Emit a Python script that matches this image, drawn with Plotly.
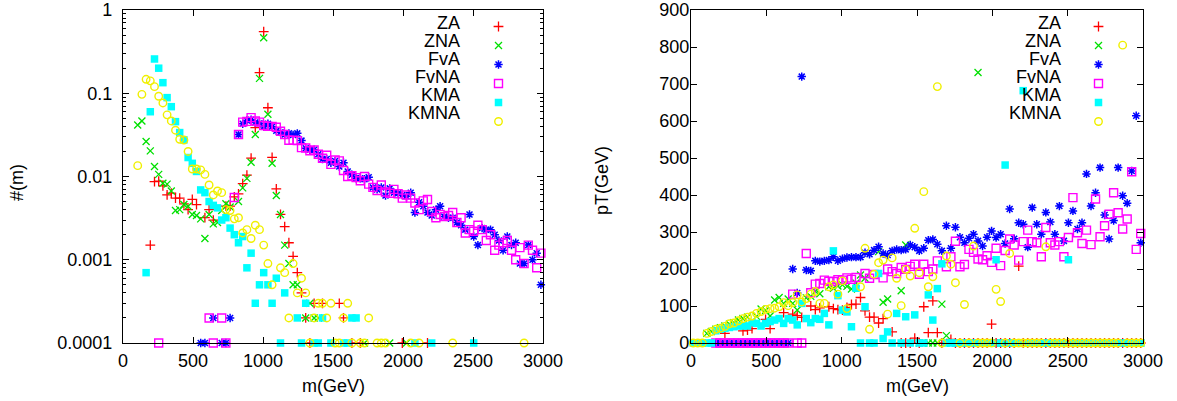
import plotly.graph_objects as go

# ---------------- LEFT PANEL: #(m) vs m (log y) ----------------
za_l_m = [195,225,255,285,315,345,375,405,435,465,495,525,585,615,645,735,765,795,825,855,
          885,915,945,975,1005,1035,1065,1095,1125,1155,1185,1215,1245,1275,1305,1335,1365,1425,1545,1575,
          1635,1695,1995,2175]
za_l_v = [0.0015,0.0087,0.0088,0.0077,0.006,0.0063,0.0055,0.0055,0.0047,0.0040,
          0.0053,0.0046,0.0032,0.0040,0.0030,0.0044,0.0044,0.0057,0.0062,0.0082,
          0.0104,0.0166,0.0386,0.177,0.55,0.067,0.017,0.0071,0.0035,0.0025,
          0.0016,0.0011,0.0007,0.0004,0.0002,0.0001,0.0003,0.0003,0.0003,0.0002,
          0.0001,0.0001,0.0001,0.0001]

zna_l_m = [105,135,165,195,225,255,285,315,345,375,405,435,465,495,525,555,585,615,645,675,
           705,735,765,825,855,885,915,945,975,1005,1035,1065,1095,1125,1155,1185,1215,1245,1305,1335,
           1365,1395,1725,1905,2025]
zna_l_v = [0.0416,0.0465,0.0263,0.0203,0.0132,0.0106,0.0083,0.0081,0.0067,0.0039,
           0.0040,0.0046,0.0044,0.0035,0.0034,0.0031,0.0018,0.0035,0.0027,0.0028,
           0.0039,0.0047,0.0043,0.0050,0.0073,0.0095,0.0148,0.032,0.151,0.465,
           0.056,0.0144,0.0059,0.0035,0.0015,0.0009,0.0005,0.0005,0.0002,0.0003,
           0.0002,0.0002,0.0001,0.0001,0.0001]

fva_l_m = [555,585,645,705,735,765,
           825,855,885,915,945,975,1005,1035,1065,1095,1125,1155,1185,1215,1245,1275,1305,1335,1365,1395,
           1425,1455,1485,1515,1545,1575,1605,1635,1665,1695,1725,1755,1785,1815,1845,1875,1905,1935,1965,1995,
           2025,2055,2085,2115,2145,2175,2205,2235,2265,2295,2325,2355,2385,2415,2445,2475,2505,2535,2565,2595,
           2625,2655,2685,2715,2745,2775,2805,2835,2865,2895,2925,2955,2985]
fva_l_v = [0.0001,0.0001,0.0002,0.0001,0.0001,0.0002,
           0.032,0.043,0.047,0.048,0.0445,0.0435,0.0397,0.043,0.0397,0.0354,
           0.034,0.032,0.033,0.0316,0.033,0.027,0.0218,0.021,0.021,0.0185,
           0.0162,0.0162,0.0146,0.0154,0.0132,0.0146,0.0115,0.0105,0.0095,0.0095,
           0.0093,0.0098,0.0074,0.0070,0.0074,0.0059,0.0072,0.0064,0.0063,0.0060,
           0.0058,0.0064,0.0037,0.0049,0.0044,0.0037,0.0034,0.0040,0.0044,0.0033,
           0.0032,0.0032,0.0028,0.0026,0.0023,0.0035,0.0019,0.0015,0.0024,0.0023,
           0.0023,0.0020,0.0017,0.0013,0.0019,0.0015,0.0016,0.0009,0.0009,0.0015,
           0.0010,0.0012,0.0005]

fvna_l_m = [255,615,645,705,735,795,
            825,855,885,915,945,975,1005,1035,1065,1095,1125,1155,1185,1215,1245,1275,1305,1335,1365,1395,
            1425,1455,1485,1515,1545,1575,1605,1635,1665,1695,1725,1755,1785,1815,1845,1875,1905,1935,1965,1995,
            2025,2055,2085,2115,2145,2175,2205,2235,2265,2295,2325,2355,2385,2415,2445,2475,2505,2535,2565,2595,
            2625,2655,2685,2715,2745,2775,2805,2835,2865,2895,2925,2955,2985]
fvna_l_v = [0.0001,0.0002,0.0001,0.0002,0.0001,0.0056,
            0.032,0.045,0.046,0.051,0.0465,0.045,0.041,0.040,0.040,0.039,
            0.035,0.032,0.0273,0.0273,0.027,0.0222,0.022,0.0204,0.0208,0.0185,
            0.0166,0.018,0.014,0.0158,0.0154,0.0118,0.010,0.0102,0.0097,0.0089,
            0.0100,0.0081,0.0074,0.0068,0.0079,0.0065,0.0063,0.0070,0.0062,0.0055,
            0.0060,0.0055,0.0048,0.0040,0.0051,0.0053,0.0038,0.0032,0.0035,0.0033,
            0.0034,0.0037,0.0028,0.0032,0.0021,0.0023,0.0022,0.0026,0.0023,0.0017,
            0.0020,0.0013,0.0015,0.0016,0.0017,0.0013,0.0010,0.0014,0.0009,0.0015,
            0.0013,0.0008,0.0012]

kma_l_m = [165,195,225,255,285,315,345,375,405,435,465,495,525,555,585,615,645,675,705,735,
           765,795,825,855,885,915,945,975,1005,1035,1065,1095,1125,1155,1245,1275,1305,1365,1395,1425,
           1485,1575,1605,1635,1665,2085,2205,2505]
kma_l_v = [0.0007,0.060,0.258,0.20,0.134,0.0886,0.069,0.0456,0.0337,0.0275,
           0.0169,0.0144,0.0115,0.0069,0.0064,0.0050,0.0045,0.0042,0.0030,0.0032,
           0.0024,0.0020,0.0016,0.0019,0.0008,0.0012,0.0003,0.0005,0.0007,0.0005,
           0.0003,0.0006,0.0001,0.0004,0.0002,0.0001,0.0003,0.0001,0.0001,0.0002,
           0.0001,0.0001,0.0001,0.0002,0.0002,0.0001,0.0001,0.0001]

kmna_l_m = [105,135,165,195,225,255,285,315,345,375,405,435,465,495,525,555,585,615,645,675,
            705,735,765,795,825,855,885,915,945,975,1005,1035,1065,1125,1155,1185,1215,1245,1275,1305,
            1335,1365,1395,1425,1455,1485,1515,1545,1575,1605,1635,1695,1725,1755,1815,1845,1875,2055,2115,2355,
            2865]
kmna_l_v = [0.0135,0.097,0.147,0.141,0.12,0.092,0.0765,0.055,0.0465,0.036,
            0.028,0.0274,0.020,0.0123,0.0123,0.012,0.0106,0.0079,0.0060,0.0067,
            0.0064,0.0040,0.0039,0.0031,0.0032,0.0021,0.0023,0.0018,0.0026,0.0023,
            0.0015,0.0009,0.0005,0.0008,0.0007,0.0002,0.0009,0.0004,0.0006,0.0004,
            0.0001,0.0002,0.0003,0.0003,0.0002,0.0003,0.0001,0.0001,0.0002,0.0003,
            0.0001,0.0001,0.0001,0.0002,0.0001,0.0001,0.0001,0.0001,0.0001,0.0001,
            0.0001]

# ---------------- RIGHT PANEL: pT vs m ----------------
za_r_m = [225,345,375,405,495,525,615,675,705,735,795,825,855,915,945,975,1005,1035,1065,1095,
          1125,1155,1185,1215,1245,1275,1335,1485,1545,1575,1605,1635,1725,1995,2175]
za_r_v = [26,33,35,39,64,39,82,78,74,69,100,90,95,98,93,90,89,96,104,105,
          123,87,70,70,54,66,30,13,98,28,114,28,10,51,208]
za_r_zero_m = [1395,1425,1455,1515,1665,1755,1785,1815,1845,1875,1905,1935,1965,2025,2055,2085,2115,2145,
               2205,2235,2265,2295,2325,2355,2385,2415,2445,2475,2505,2535,2565,2595,2625,2655,2685,2715,
               2745,2775,2805,2835,2865,2895,2925,2955,2985]

zna_r_m = [105,135,165,195,225,255,285,315,345,375,435,465,495,525,555,585,615,645,675,705,
           765,795,825,855,915,945,975,1005,1035,1065,1095,1125,1155,1245,1275,1305,1395,1425,1665,1695,
           1905]
zna_r_v = [26,31,37,41,46,51,55,62,66,70,72,92,88,73,116,123,107,119,107,89,
           122,126,140,133,152,148,154,157,153,146,162,184,175,247,110,119,141,265,105,20,
           731]
zna_r_zero_m = [1515,1545,1575,1605,1635,1725,1755,1785,1815,1845,1875,1935,1965,1995,2025,2055,2085,2115,
                2145,2175,2205,2235,2265,2295,2325,2355,2385,2415,2445,2475,2505,2535,2565,2595,2625,2655,
                2685,2715,2745,2775,2805,2835,2865,2895,2925,2955,2985]

fva_r_m = [675,705,735,
           765,795,825,855,885,915,945,975,1005,1035,1065,1095,1125,1155,1185,1215,1245,1275,1305,1335,1365,1395,
           1425,1455,1485,1515,1545,1575,1605,1635,1665,1695,1725,1755,1785,1815,1845,1875,1905,1935,1965,1995,
           2025,2055,2085,2115,2145,2175,2205,2235,2265,2295,2325,2355,2385,2415,2445,2475,2505,2535,2565,2595,
           2625,2655,2685,2715,2745,2775,2805,2835,2865,2895,2925,2955,2985]
fva_r_v = [200,135,720,
           197,195,222,220,222,224,233,222,228,231,
           232,232,232,244,240,251,260,242,238,249,
           253,251,253,265,259,249,256,278,280,267,
           249,317,256,313,286,271,283,294,276,262,
           286,303,285,294,269,362,282,325,321,259,
           366,321,294,353,327,294,370,276,325,357,
           308,325,457,370,406,474,346,281,331,474,
           398,378,465,614,271]
fva_r_zero_m = [165,195,225,255,285,315,345,375,405,435,465,495,525,555,585,615,645]

fvna_r_m = [675,765,795,825,855,885,915,945,975,1005,1035,1065,1095,1155,1185,1215,1275,1305,1335,1365,
            1395,1425,1455,1485,1515,1545,1575,1605,1635,1695,1725,1755,1785,1815,1845,1875,1905,1935,1965,1995,
            2025,2055,2085,2115,2145,2175,2205,2235,2265,2295,2325,2355,2385,2415,2445,2475,2505,2535,2565,2595,
            2625,2655,2685,2715,2745,2775,2805,2835,2865,2895,2925,2955,2985]
fvna_r_v = [132,242,136,159,161,170,167,166,171,170,176,172,177,188,175,185,176,200,193,188,
            204,199,207,213,186,213,193,200,222,206,233,275,206,212,253,245,227,225,236,218,
            256,209,250,281,265,224,274,305,274,271,233,312,271,265,274,233,285,393,298,269,
            305,266,389,287,317,348,406,352,308,335,463,253,296]
fvna_r_zero_m = [165,195,225,255,285,315,345,375,405,435,465,495,525,555,585,615,645,705,735]

kma_r_m = [165,195,225,255,285,315,345,375,405,435,465,495,525,555,585,615,645,675,705,735,
           765,795,825,855,885,915,945,975,1005,1035,1065,1095,1155,1245,1275,1305,1365,1425,1485,1575,
           1605,1635,1665,2025,2085,2205,2505]
kma_r_v = [33,37,40,42,44,46,46,46,55,53,46,53,58,62,66,53,66,62,49,107,
           66,55,66,64,80,49,249,128,89,84,44,148,98,188,12,30,80,71,76,130,
           62,147,214,225,481,682,225]
kma_r_zero_m = [15,45,75,105,135,1125,1185,1215,1335,1395,1455,1515,1545,1695,1725,1755,1785,1815,1845,
                1875,1905,1935,1965,1995,2055,2115,2145,2175,2235,2265,2295,2325,2355,2385,2415,2445,2475,
                2535,2565,2595,2625,2655,2685,2715,2745,2775,2805,2835,2865,2895,2925,2955,2985]

kmna_r_m = [105,135,165,195,225,255,285,315,345,375,405,435,465,495,525,555,585,615,645,675,
            705,735,765,795,825,855,885,915,945,975,1005,1035,1125,1155,1185,1215,1245,1275,1305,1335,
            1365,1395,1425,1455,1485,1515,1545,1575,1605,1635,1695,1725,1755,1815,1875,2025,2055,2115,2355,2865]
kmna_r_v = [26,31,37,40,45,52,54,60,66,70,73,80,85,91,93,94,98,109,101,109,
            130,111,120,132,139,107,107,152,157,132,168,93,152,256,37,186,217,224,78,230,
            175,101,199,181,310,190,409,152,179,693,235,213,163,104,262,145,112,242,260,805]
kmna_r_zero_m = [15,45,75,1665,1785,1845,1905,1935,1965,1995,2085,2145,2175,2205,2235,2265,2295,2325,2385,
                 2415,2445,2475,2505,2535,2565,2595,2625,2655,2685,2715,2745,2775,2805,2835,2895,2925,2955,2985]

series_names = ["ZA", "ZNA", "FvA", "FvNA", "KMA", "KMNA"]
x_ticks = [0, 500, 1000, 1500, 2000, 2500, 3000]
logy_tickvals = [0.0001, 0.001, 0.01, 0.1, 1]
logy_ticktext = ["0.0001", "0.001", "0.01", "0.1", "1"]

# ---------------- styles ----------------
styles = {
    "ZA":   dict(symbol="cross-thin-open", size=7, color="#ff0000", line=dict(width=1.3, color="#ff0000")),
    "ZNA":  dict(symbol="x-thin-open", size=7, color="#00e000", line=dict(width=1.3, color="#00e000")),
    "FvA":  dict(symbol="asterisk-open", size=7, color="#0000ff", line=dict(width=1.5, color="#0000ff")),
    "FvNA": dict(symbol="square-open", size=8, color="#ff00ff", line=dict(width=1.4, color="#ff00ff")),
    "KMA":  dict(symbol="square", size=7.5, color="#00ffff", line=dict(width=0)),
    "KMNA": dict(symbol="circle-open", size=7.5, color="#f0f000", line=dict(width=1.4, color="#f0f000")),
}

left_data = {
    "ZA": (za_l_m, za_l_v), "ZNA": (zna_l_m, zna_l_v), "FvA": (fva_l_m, fva_l_v),
    "FvNA": (fvna_l_m, fvna_l_v), "KMA": (kma_l_m, kma_l_v), "KMNA": (kmna_l_m, kmna_l_v),
}
right_data = {
    "ZA": (za_r_m, za_r_v, za_r_zero_m), "ZNA": (zna_r_m, zna_r_v, zna_r_zero_m),
    "FvA": (fva_r_m, fva_r_v, fva_r_zero_m), "FvNA": (fvna_r_m, fvna_r_v, fvna_r_zero_m),
    "KMA": (kma_r_m, kma_r_v, kma_r_zero_m), "KMNA": (kmna_r_m, kmna_r_v, kmna_r_zero_m),
}
for k, (m, v) in left_data.items():
    assert len(m) == len(v), ("left", k, len(m), len(v))
for k, (m, v, z) in right_data.items():
    assert len(m) == len(v), ("right", k, len(m), len(v))

fig = go.Figure()
for name in series_names:
    m, v = left_data[name]
    fig.add_trace(go.Scatter(x=m, y=v, mode="markers", name=name, marker=styles[name],
                             xaxis="x", yaxis="y", showlegend=False, cliponaxis=False))
for name in series_names:
    m, v, z = right_data[name]
    fig.add_trace(go.Scatter(x=list(z) + list(m), y=[0] * len(z) + list(v), mode="markers",
                             name=name, marker=styles[name], xaxis="x2", yaxis="y2",
                             showlegend=False, cliponaxis=False))
# legend keys (one set per panel)
for lg in ["legend", "legend2"]:
    for name in series_names:
        fig.add_trace(go.Scatter(x=[None], y=[None], mode="markers", name=" ", marker=styles[name],
                                 xaxis="x" if lg == "legend" else "x2",
                                 yaxis="y" if lg == "legend" else "y2",
                                 legend=lg, showlegend=True))

W, H = 1177, 401
def px(x): return x / W
def py(y): return 1 - y / H

FONT = "Liberation Sans, Arial, sans-serif"
FS = 18
axis_common = dict(showline=True, linecolor="black", linewidth=1.2, mirror="allticks",
                   ticks="inside", ticklen=6, tickcolor="black", tickwidth=1,
                   showgrid=False, zeroline=False, automargin=False,
                   tickfont=dict(family=FONT, size=FS, color="black"))

fig.update_layout(
    width=W, height=H, margin=dict(l=0, r=0, t=0, b=0, autoexpand=False),
    paper_bgcolor="white", plot_bgcolor="white",
    font=dict(family=FONT, size=FS, color="black"),
    xaxis=dict(domain=[px(123), px(543)], range=[0, 3000], tickvals=x_ticks, anchor="y",
               ticklabelstandoff=1, **axis_common),
    yaxis=dict(domain=[py(343), py(10)], type="log", range=[-4, 0], tickvals=logy_tickvals,
               ticktext=logy_ticktext, anchor="x", ticklabelstandoff=6,
               minor=dict(ticks="inside", ticklen=3, dtick="D1", tickcolor="black"),
               **axis_common),
    xaxis2=dict(domain=[px(691), px(1143)], range=[0, 3000], tickvals=x_ticks, anchor="y2",
                ticklabelstandoff=1, **axis_common),
    yaxis2=dict(domain=[py(343), py(10)], range=[0, 900], dtick=100, anchor="x2",
                ticklabelstandoff=-3, **axis_common),
    legend=dict(x=px(478.5), y=py(12), xanchor="left", yanchor="top", bgcolor="rgba(0,0,0,0)",
                font=dict(size=11), tracegroupgap=0, itemwidth=30),
    legend2=dict(x=px(1078.5), y=py(12), xanchor="left", yanchor="top", bgcolor="rgba(0,0,0,0)",
                 font=dict(size=11), tracegroupgap=0, itemwidth=30),
)

ann = []
for xc in (333, 917):
    ann.append(dict(text="m(GeV)", x=px(xc), y=py(386), xref="paper", yref="paper", showarrow=False,
                    xanchor="center", yanchor="middle", font=dict(size=FS)))
ann.append(dict(text="#(m)", x=px(17), y=py(183), xref="paper", yref="paper", showarrow=False,
                xanchor="center", yanchor="middle", textangle=-90, font=dict(size=FS)))
ann.append(dict(text="pT(GeV)", x=px(602), y=py(181), xref="paper", yref="paper", showarrow=False,
                xanchor="center", yanchor="middle", textangle=-90, font=dict(size=FS)))
row_y = [23, 41, 59, 77, 95, 113]
for i, name in enumerate(series_names):
    for xr in (462, 1063):
        ann.append(dict(text=name, x=px(xr), y=py(row_y[i]), xref="paper", yref="paper",
                        xanchor="right", yanchor="middle", showarrow=False, font=dict(size=FS)))
fig.update_layout(annotations=ann)

fig.write_html("out.html", config={"displayModeBar": False},
               post_script="document.body.style.margin='0px';document.body.style.overflow='hidden';")
